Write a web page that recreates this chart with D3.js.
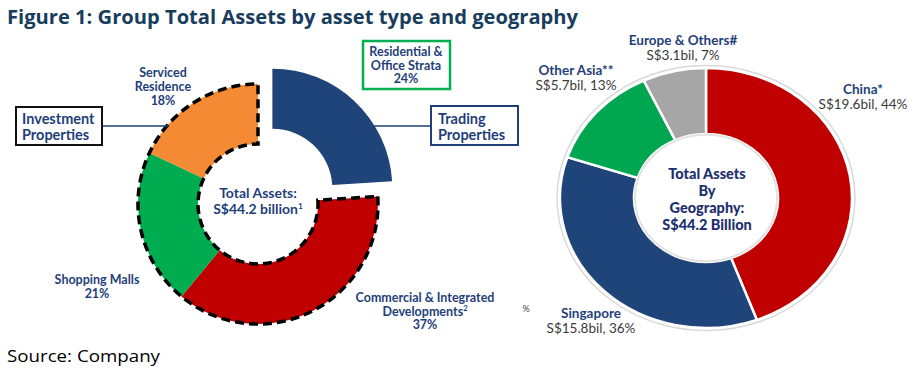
<!DOCTYPE html>
<html><head><meta charset="utf-8">
<script src="https://cdn.jsdelivr.net/npm/d3@7"></script>
<style>body{margin:0;background:#fff}svg{display:block}</style>
</head><body>
<script>
const assetTypes = ["Residential & Office Strata", "Commercial & Integrated Developments", "Shopping Malls", "Serviced Residence"];
const assetShares = [24, 37, 21, 18];
const assetColors = ["#1f4479", "#c00000", "#00ac50", "#f48a33"];
const geoNames = ["China*", "Singapore", "Other Asia**", "Europe & Others#"];
const geoValues = [19.6, 15.8, 5.7, 3.1];
const geoShares = [44, 36, 13, 7];
const geoColors = ["#c00000", "#1f4479", "#00a650", "#a6a6a6"];

const W = 918, H = 380;
const navy = "#1f3f7a";
const svg = d3.select("body").append("svg").attr("width", W).attr("height", H);

// Title
svg.append("text").attr("x", 7).attr("y", 24)
  .attr("font-family", "Open Sans").attr("font-weight", 700).attr("font-size", 20)
  .attr("fill", "#183d5c").attr("textLength", 571).attr("lengthAdjust", "spacingAndGlyphs")
  .text("Figure 1: Group Total Assets by asset type and geography");
svg.append("text").attr("x", 7).attr("y", 362)
  .attr("font-family", "Open Sans").attr("font-size", 17)
  .attr("fill", "#000").attr("textLength", 153).attr("lengthAdjust", "spacingAndGlyphs")
  .text("Source: Company");

// ---- Left donut
const cx = 258, cy = 204, r0 = 60, r1 = 120;
const pieA = d3.pie().sort(null).value(d => d)(assetShares);
const arcA = d3.arc().innerRadius(r0).outerRadius(r1);
const gL = svg.append("g").attr("transform", `translate(${cx},${cy})`);
pieA.forEach((p, i) => {
  let dx = 0, dy = 0;
  if (i === 0) { const m = (p.startAngle + p.endAngle) / 2; dx = 21 * Math.sin(m); dy = -21 * Math.cos(m); }
  gL.append("path").attr("d", arcA(p)).attr("fill", assetColors[i])
    .attr("transform", `translate(${dx},${dy})`);
});
// dashed outline of investment properties group
gL.append("path").attr("d", arcA({startAngle: pieA[1].startAngle, endAngle: pieA[3].endAngle}))
  .attr("fill", "none").attr("stroke", "#000").attr("stroke-width", 3.5)
  .attr("stroke-dasharray", "9,5");

function lines(g, x, y0, dy, arr, opts) {
  const t = g.append("text").attr("text-anchor", opts.anchor || "middle")
    .attr("font-family", opts.family || "Lato").attr("font-weight", opts.weight || 700)
    .attr("font-size", opts.size).attr("fill", opts.fill || navy);
  arr.forEach((s, i) => {
    const ts = t.append("tspan").attr("x", x).attr("y", y0 + i * dy);
    if (typeof s === "string") ts.text(s);
    else { ts.text(s[0]); ts.append("tspan").attr("font-size", opts.size * 0.6).attr("dy", -5).text(s[1]); }
  });
  return t;
}

// labels
lines(svg, 163, 77, 14, ["Serviced", "Residence", assetShares[3] + "%"], {size: 12.5});
lines(svg, 97, 284, 13.5, ["Shopping Malls", assetShares[2] + "%"], {size: 12.5});
lines(svg, 425, 302, 13.5, ["Commercial & Integrated", ["Developments", "2"], assetShares[1] + "%"], {size: 12.5});
lines(svg, 258, 198, 15.5, ["Total Assets:", ["S$44.2 billion", "1"]], {size: 14});

// green box
svg.append("rect").attr("x", 363).attr("y", 41).attr("width", 87).attr("height", 48)
  .attr("fill", "#fff").attr("stroke", "#00b050").attr("stroke-width", 2.5);
lines(svg, 406, 56, 13.5, ["Residential &", "Office Strata", assetShares[0] + "%"], {size: 12.5});

// Investment Properties box
svg.append("line").attr("x1", 102).attr("y1", 126).attr("x2", 168).attr("y2", 126)
  .attr("stroke", navy).attr("stroke-width", 1.5);
svg.append("rect").attr("x", 16).attr("y", 107).attr("width", 86).attr("height", 38)
  .attr("fill", "#fff").attr("stroke", "#111").attr("stroke-width", 2);
lines(svg, 22, 124, 16, ["Investment", "Properties"], {size: 14.5, anchor: "start"});

// Trading Properties box
svg.append("line").attr("x1", 373).attr("y1", 126).attr("x2", 431).attr("y2", 126)
  .attr("stroke", navy).attr("stroke-width", 1.5);
svg.append("rect").attr("x", 431).attr("y", 106).attr("width", 87).attr("height", 39)
  .attr("fill", "#fff").attr("stroke", "#1f3f7a").attr("stroke-width", 2);
lines(svg, 438, 124, 16, ["Trading", "Properties"], {size: 14.5, anchor: "start"});

// ---- Right donut (slightly elliptical)
const gx = 706, gy = 198, R1 = 146, R0 = 72, sy = 0.89;
const pieG = d3.pie().sort(null).value(d => d)(geoValues);
const arcG = d3.arc().innerRadius(R0).outerRadius(R1);
const gR = svg.append("g").attr("transform", `translate(${gx},${gy}) scale(1,${sy})`);
gR.append("circle").attr("r", R1 + 3).attr("fill", "#fff").attr("stroke", "#d9d9d9")
  .attr("stroke-width", 1.5).attr("vector-effect", "non-scaling-stroke");
pieG.forEach((p, i) => {
  gR.append("path").attr("d", arcG(p)).attr("fill", geoColors[i])
    .attr("stroke", "#fff").attr("stroke-width", 2.5).attr("vector-effect", "non-scaling-stroke");
});
gR.append("circle").attr("r", R0 - 1).attr("fill", "#fff").attr("stroke", "#e3e3e3")
  .attr("stroke-width", 2).attr("vector-effect", "non-scaling-stroke");

lines(svg, 707, 179, 17, ["Total Assets", "By", "Geography:", "S$44.2 Billion"], {size: 14.5, weight: 900, fill: "#1d2f6e"});

const geoLabelPos = [[863, 94], [591, 318], [576, 75], [683, 45]];
geoNames.forEach((n, i) => {
  const [x, y] = geoLabelPos[i];
  lines(svg, x, y, 0, [n], {size: 13.5});
  lines(svg, x, y + 14.5, 0, [`S$${geoValues[i].toFixed(1)}bil, ${geoShares[i]}%`], {size: 13.5, weight: 400, fill: "#3a3a3a"});
});
svg.append("text").attr("x", 526).attr("y", 312).attr("text-anchor", "middle")
  .attr("font-family", "Lato").attr("font-size", 9).attr("fill", "#444").text("%");
</script>
</body></html>
